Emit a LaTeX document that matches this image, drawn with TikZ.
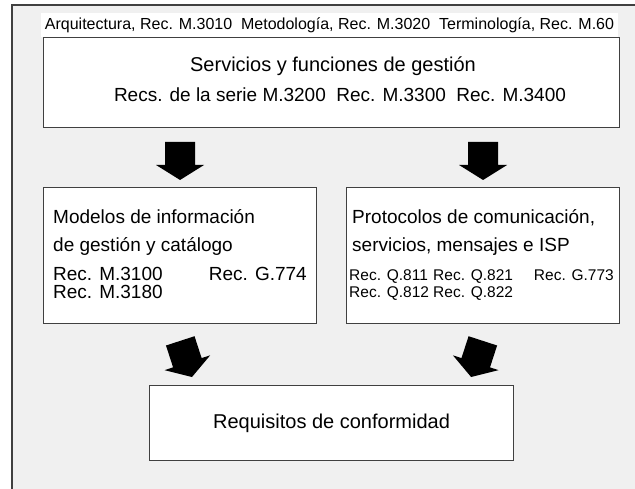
\documentclass[tikz,border=0pt]{standalone}
\usepackage{fontspec}
\setmainfont{Liberation Sans}
\usetikzlibrary{calc}
\definecolor{panelgray}{HTML}{F0F0F0}
\definecolor{framegray}{HTML}{404040}
\tikzset{
    box/.style={draw=framegray, fill=white, line width=1.1pt, inner sep=0pt, anchor=north west},
    blockarrow/.pic={
        \fill[black] (-15,-38) -- (15,-38) -- (15,-15) -- (24,-15) -- (0,0)
            -- (-24,-15) -- (-15,-15) -- cycle;
    },
    bigtext/.style={inner sep=0pt, font=\fontsize{19}{22}\selectfont},
    smalltext/.style={inner sep=0pt, anchor=base west, font=\fontsize{15.5}{17}\selectfont},
}
\begin{document}
\begin{tikzpicture}[x=1pt,y=-1pt]
    \useasboundingbox (0,0) rectangle (635,489);
    % panel
    \fill[panelgray] (12,5) rectangle (635,489);
    \draw[framegray, line width=1.4pt] (12,489) -- (12,5) -- (635,5);
    \node[fill=white, inner sep=0pt, minimum width=577pt, minimum height=24pt,
        font=\fontsize{16}{18}\selectfont] (refs) at (329.5,25)
        {Arquitectura, Rec. M.3010\ \ Metodología, Rec. M.3020\ \ Terminología, Rec. M.60};

    % boxes
    \node[box, minimum width=576pt, minimum height=90pt] (main) at (43,37) {};
    \node[box, minimum width=273pt, minimum height=136pt] (left) at (43,187) {};
    \node[box, minimum width=273pt, minimum height=136pt] (right) at (346,187) {};
    \node[box, minimum width=364pt, minimum height=75pt] (conf) at (149,385) {};

    % texts
    \node[bigtext, font=\fontsize{20}{22}\selectfont, anchor=base] (svc) at (333,72) {Servicios y funciones de gestión};
    \node[bigtext, anchor=base] (svcrecs) at (340,102) {Recs. de la serie M.3200\ \ Rec. M.3300\ \ Rec. M.3400};
    \node[bigtext, anchor=base west] (mod1) at (53,224) {Modelos de información};
    \node[bigtext, anchor=base west] (mod2) at (53,252) {de gestión y catálogo};
    \node[bigtext, anchor=base west] (m3100) at (53,281) {Rec. M.3100};
    \node[bigtext, anchor=base east] (g774) at (307,281) {Rec. G.774};
    \node[bigtext, anchor=base west] (m3180) at (53,299) {Rec. M.3180};
    \node[bigtext, anchor=base west] (prot1) at (352,224) {Protocolos de comunicación,};
    \node[bigtext, anchor=base west] (prot2) at (352,252) {servicios, mensajes e ISP};
    \node[smalltext] (q811) at (349,280) {Rec. Q.811};
    \node[smalltext] (q821) at (433,280) {Rec. Q.821};
    \node[smalltext, anchor=base east] (g773) at (614,280) {Rec. G.773};
    \node[smalltext] (q812) at (349,298) {Rec. Q.812};
    \node[smalltext] (q822) at (433,298) {Rec. Q.822};
    \node[bigtext, font=\fontsize{20}{22}\selectfont] (req) at (conf) {Requisitos de conformidad};

    % arrows
    \pic (a1) at ($(left.north)+(0,-7)$) {blockarrow};
    \pic (a2) at ($(right.north)+(0,-7)$) {blockarrow};
    \pic[rotate=18] (a3) at ($(conf.north west)+(43,-8)$) {blockarrow};
    \pic[rotate=-18] (a4) at ($(conf.north east)+(-43,-8)$) {blockarrow};
\end{tikzpicture}
\end{document}
